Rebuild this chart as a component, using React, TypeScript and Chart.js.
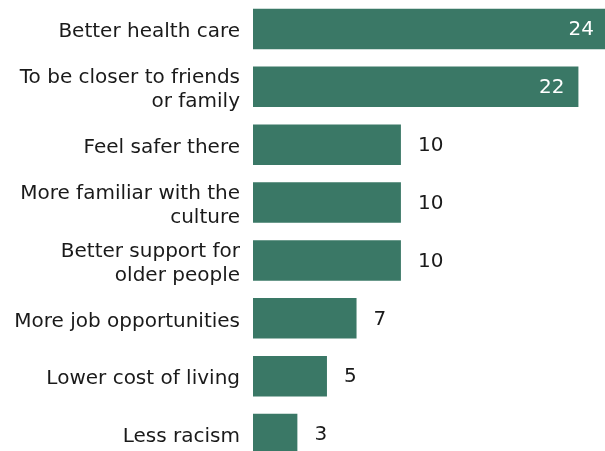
import React, { useEffect, useRef } from "react";
import { Chart, registerables } from "chart.js";

Chart.register(...registerables);

const categories: (string | string[])[] = [
  "Better health care",
  ["To be closer to friends", "or family"],
  "Feel safer there",
  ["More familiar with the", "culture"],
  ["Better support for", "older people"],
  "More job opportunities",
  "Lower cost of living",
  "Less racism",
];
const values: number[] = [24, 22, 10, 10, 10, 7, 5, 3];
const insideThreshold = 15;

const BAR_COLOR = "#3a7866";
const FONT = "'DejaVu Sans', Verdana, sans-serif";
const FONT_SIZE = 20;

const valueLabelPlugin = {
  id: "valueLabels",
  afterDatasetsDraw(chart: any) {
    const ctx = chart.ctx;
    const meta = chart.getDatasetMeta(0);
    ctx.save();
    ctx.font = `${FONT_SIZE}px ${FONT}`;
    ctx.textBaseline = "middle";
    meta.data.forEach((bar: any, i: number) => {
      const v = values[i];
      const txt = String(v);
      if (v >= insideThreshold) {
        ctx.fillStyle = "#ffffff";
        ctx.textAlign = "right";
        ctx.fillText(txt, bar.x - 14, bar.y + 1);
      } else {
        ctx.fillStyle = "#1a1a1a";
        ctx.textAlign = "left";
        ctx.fillText(txt, bar.x + 17, bar.y + 1);
      }
    });
    ctx.restore();
  },
};

export default function App() {
  const ref = useRef<HTMLCanvasElement | null>(null);
  useEffect(() => {
    if (!ref.current) return;
    const chart = new Chart(ref.current, {
      type: "bar",
      data: {
        labels: categories,
        datasets: [
          {
            data: values,
            backgroundColor: BAR_COLOR,
            borderWidth: 0,
            barPercentage: 0.7,
            categoryPercentage: 1,
          },
        ],
      },
      options: {
        indexAxis: "y",
        responsive: false,
        animation: false,
        layout: { padding: 0 },
        plugins: { legend: { display: false }, tooltip: { enabled: false } },
        scales: {
          x: { display: false, min: 0, max: 24 },
          y: {
            grid: { display: false },
            border: { display: false },
            ticks: {
              color: "#1a1a1a",
              padding: 5,
              labelOffset: 3,
              font: { family: FONT, size: FONT_SIZE, lineHeight: 1.2 },
            },
            afterFit(scale: any) {
              scale.width = 253;
              scale.paddingTop = 0;
              scale.paddingBottom = 0;
            },
          },
        },
      },
      plugins: [valueLabelPlugin],
    });
    return () => chart.destroy();
  }, []);
  return (
    <div style={{ position: "fixed", left: 0, top: 0, width: 605, height: 451, overflow: "hidden", background: "#fff" }}>
      <canvas ref={ref} width={608} height={463} style={{ position: "absolute", left: 0, top: 0 }} />
    </div>
  );
}
